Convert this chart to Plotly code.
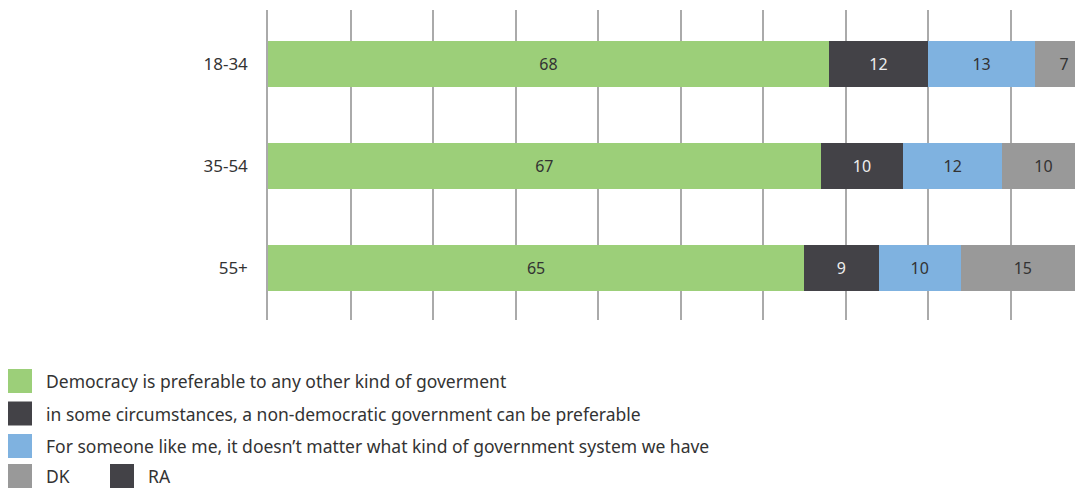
import plotly.graph_objects as go

categories = ["18-34", "35-54", "55+"]
series_names = [
    "Democracy is preferable to any other kind of goverment",
    "in some circumstances, a non-democratic government can be preferable",
    "For someone like me, it doesn\u2019t matter what kind of government system we have",
    "DK",
    "RA",
]
democracy = [68, 67, 65]
non_democratic = [12, 10, 9]
doesnt_matter = [13, 12, 10]
dk = [7, 10, 15]
ra = [0, 0, 0]

colors = ["#9ccf79", "#434247", "#7fb2e0", "#999999", "#434247"]
text_colors = ["#333333", "#eeeeee", "#333333", "#333333", "#eeeeee"]
values = [democracy, non_democratic, doesnt_matter, dk, ra]

FONT = "Noto Sans"
OFF = 8  # page body margin
W, H = 1083 - OFF, 488 - OFF
L, T = 268 - OFF, 10 - OFF
PX0, PX1 = L, W
PY0, PY1 = T, 320 - OFF
B = H - PY1

fig = go.Figure()
for name, vals, col, tc in zip(series_names, values, colors, text_colors):
    fig.add_trace(go.Bar(
        y=categories, x=vals, name=name, orientation="h",
        marker=dict(color=col, line=dict(width=0)),
        width=0.45,
        text=[str(v) if v > 0 else "" for v in vals],
        textposition="inside", insidetextanchor="middle", textangle=0,
        textfont=dict(family=FONT, size=16, color=tc),
        hoverinfo="skip", showlegend=False,
    ))

def px_to_paper_x(px):
    return (px - OFF - PX0) / (PX1 - PX0)

def px_to_paper_y(py):
    return (PY1 - (py - OFF)) / (PY1 - PY0)

# legend (drawn manually)
legend_rows = [
    [(0, 8, 45)],
    [(1, 8, 45)],
    [(2, 8, 45)],
    [(3, 8, 45), (4, 110, 147)],
]
row_tops = [369, 401.5, 434, 464]
shapes = []
annotations = []
for row, top in zip(legend_rows, row_tops):
    for idx, sx, tx in row:
        shapes.append(dict(
            type="rect", xref="paper", yref="paper",
            x0=px_to_paper_x(sx), x1=px_to_paper_x(sx + 24),
            y0=px_to_paper_y(top), y1=px_to_paper_y(top + 24),
            fillcolor=colors[idx], line=dict(width=0), layer="above",
        ))
        annotations.append(dict(
            xref="paper", yref="paper",
            x=px_to_paper_x(tx), y=px_to_paper_y(top + 12),
            xanchor="left", yanchor="middle", showarrow=False,
            text=series_names[idx], borderpad=0,
            font=dict(family=FONT, size=17.5, color="#333333"),
        ))

fig.update_layout(
    barmode="stack",
    width=W, height=H,
    margin=dict(l=L, r=0, t=T, b=B, pad=0),
    paper_bgcolor="white", plot_bgcolor="white",
    showlegend=False,
    shapes=shapes, annotations=annotations,
    xaxis=dict(range=[0, (PX1 - PX0) / 8.25], dtick=10, tick0=0,
               showgrid=True, gridcolor="#aaaaaa", gridwidth=1.5,
               zeroline=False, showticklabels=False, showline=False),
    yaxis=dict(type="category", range=[2.51, -0.53],
               showgrid=False, zeroline=False,
               showline=True, linecolor="#aaaaaa", linewidth=1.5,
               ticklabelstandoff=15,
               tickfont=dict(family=FONT, size=17, color="#333333")),
    font=dict(family=FONT),
)

fig.write_html("out.html")
